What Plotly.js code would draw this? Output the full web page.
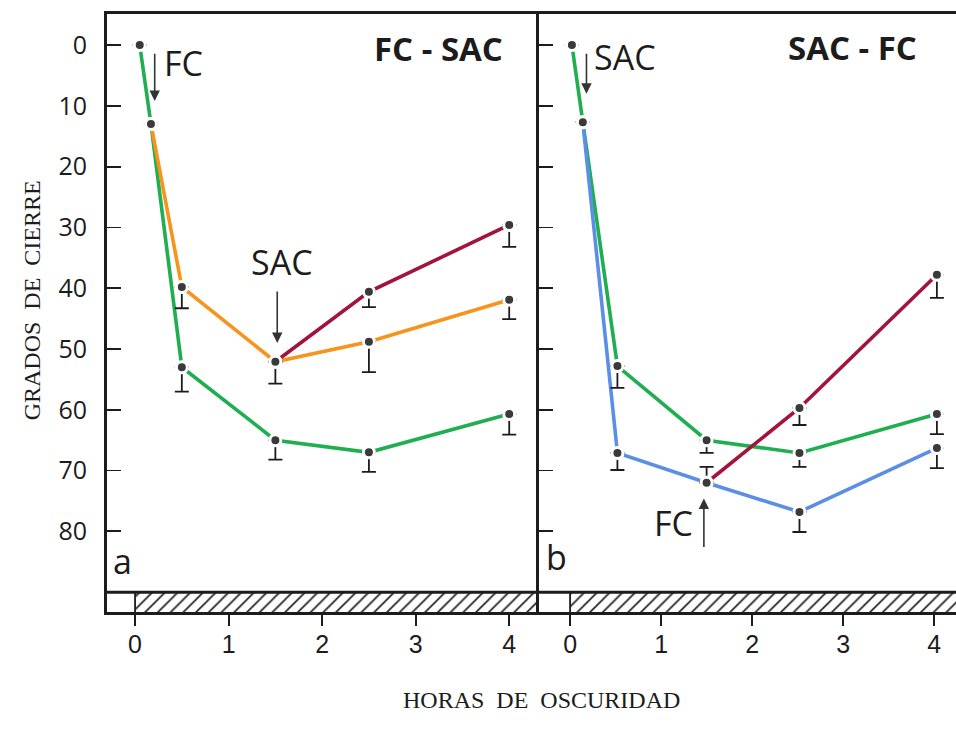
<!DOCTYPE html>
<html>
<head>
<meta charset="utf-8">
<script src="https://cdn.plot.ly/plotly-3.0.1.min.js"></script>
<style>html,body{margin:0;padding:0;background:#fff;}#chart{width:956px;height:737px;}</style>
</head>
<body>
<div id="chart"></div>
<script>
// ---------- Data: panel a (FC - SAC) ----------
const aGreenX = [0.05, 0.17, 0.5, 1.5, 2.5, 4.0];
const aGreenY = [0, 13, 53, 65, 67, 60.7];
const aGreenErr = [0, 0, 4.0, 3.2, 3.2, 3.4];

const aOrangeX = [0.17, 0.5, 1.5, 2.5, 4.0];
const aOrangeY = [13, 39.8, 52.1, 48.8, 41.9];
const aOrangeErr = [0, 3.5, 3.6, 5.0, 3.2];

const aRedX = [1.5, 2.5, 4.0];
const aRedY = [52.1, 40.6, 29.6];
const aRedErr = [0, 2.5, 3.6];

// ---------- Data: panel b (SAC - FC) ----------
const bGreenX = [0.02, 0.14, 0.52, 1.5, 2.52, 4.03];
const bGreenY = [0, 12.7, 52.8, 65, 67.1, 60.7];
const bGreenErr = [0, 0, 3.6, 2.1, 2.3, 3.3];

const bBlueX = [0.14, 0.52, 1.5, 2.52, 4.03];
const bBlueY = [12.7, 67.1, 72.0, 76.8, 66.3];
const bBlueErr = [0, 2.8, 0, 3.3, 3.3];
const bBlueErrMinus = [0, 0, 2.6, 0, 0];

const bRedX = [1.5, 2.52, 4.03];
const bRedY = [72.0, 59.7, 37.8];
const bRedErr = [0, 2.8, 3.8];

// Darkness bar (hours of darkness start at 0)
const darkStart = 0;
const yTicks = [0, 10, 20, 30, 40, 50, 60, 70, 80];
const yTickText = ['0', '10', '20', '30', '40', '50', '60', '70', '80'];
const xTicks = [0, 1, 2, 3, 4];
const xTickText = ['0', '1', '2', '3', '4'];

// ---------- Styling ----------
const GREEN = '#1fae50';
const ORANGE = '#f7941d';
const RED = '#a3143c';
const BLUE = '#5b8ee6';
const INK = '#1c1c1c';
const xRangeA = [-0.3, 4.32];
const xRangeB = [-0.34, 4.24];
const yRange = [93.26, -5.1];
const barTop = 90;

function lineTrace(x, y, color, xa, ya) {
  return {x: x, y: y, mode: 'lines', type: 'scatter', xaxis: xa, yaxis: ya,
    line: {color: color, width: 3.6}, hoverinfo: 'skip'};
}
function markTrace(x, y, err, errMinus, xa, ya) {
  return {x: x, y: y, mode: 'markers', type: 'scatter', xaxis: xa, yaxis: ya,
    marker: {size: 11, color: '#3a3a3a', line: {color: '#ffffff', width: 3}},
    error_y: {type: 'data', symmetric: false, array: err,
      arrayminus: errMinus || err.map(() => 0),
      color: INK, thickness: 1.8, width: 7},
    hoverinfo: 'skip'};
}
function darkBar(range, xa, ya) {
  const w = range[1] - darkStart;
  return {type: 'bar', x: [darkStart + w / 2], width: [w], base: [barTop],
    y: [yRange[0] - barTop], xaxis: xa, yaxis: ya,
    marker: {color: '#ffffff', line: {width: 0},
      pattern: {shape: '/', size: 9, solidity: 0.18, fgcolor: INK, bgcolor: '#ffffff'}},
    hoverinfo: 'skip'};
}

const traces = [
  darkBar(xRangeA, 'x', 'y'),
  darkBar(xRangeB, 'x2', 'y2'),
  lineTrace(aGreenX, aGreenY, GREEN, 'x', 'y'),
  lineTrace(aOrangeX, aOrangeY, ORANGE, 'x', 'y'),
  lineTrace(aRedX, aRedY, RED, 'x', 'y'),
  lineTrace(bGreenX, bGreenY, GREEN, 'x2', 'y2'),
  lineTrace(bBlueX, bBlueY, BLUE, 'x2', 'y2'),
  lineTrace(bRedX, bRedY, RED, 'x2', 'y2'),
  markTrace(aGreenX, aGreenY, aGreenErr, null, 'x', 'y'),
  markTrace(aOrangeX, aOrangeY, aOrangeErr, null, 'x', 'y'),
  markTrace(aRedX, aRedY, aRedErr, null, 'x', 'y'),
  markTrace(bGreenX, bGreenY, bGreenErr, null, 'x2', 'y2'),
  markTrace(bBlueX, bBlueY, bBlueErr, bBlueErrMinus, 'x2', 'y2'),
  markTrace(bRedX, bRedY, bRedErr, null, 'x2', 'y2')
];

const tickFontX = {family: 'Liberation Sans, Arial, sans-serif', size: 25, color: INK};
const tickFontY = {family: 'Open Sans, sans-serif', size: 25, color: INK};
const annFont = {family: 'Open Sans, sans-serif', size: 34, color: INK};
const annBold = {family: 'Open Sans, sans-serif', size: 33, color: INK, weight: 'bold'};
const serif = {family: 'Liberation Serif, Times New Roman, serif', size: 24, color: INK};

function arrow(xa, ya, x, y, ax, ay) {
  return {xref: xa, yref: ya, axref: xa, ayref: ya, x: x, y: y, ax: ax, ay: ay,
    text: '', showarrow: true, arrowhead: 2, arrowsize: 1.3, arrowwidth: 1.6,
    arrowcolor: '#333333', standoff: 0, startstandoff: 0};
}
function label(xa, ya, x, y, text, font, xanchor) {
  return {xref: xa, yref: ya, x: x, y: y, text: text, showarrow: false,
    font: font, xanchor: xanchor || 'center', yanchor: 'middle'};
}

const annotations = [
  label('x', 'y', 0.29, 3.0, 'FC', annFont, 'left'),
  arrow('x', 'y', 0.21, 9.2, 0.21, 1.2),
  label('x', 'y', 3.24, 0.6, 'FC - SAC', annBold),
  label('x', 'y', 1.57, 35.7, 'SAC', annFont),
  arrow('x', 'y', 1.52, 49.0, 1.52, 40.3),
  label('x', 'y', -0.13, 84.8, 'a', annFont),
  label('x2', 'y2', 0.24, 2.0, 'SAC', annFont, 'left'),
  arrow('x2', 'y2', 0.18, 8.0, 0.18, 1.2),
  label('x2', 'y2', 3.10, 0.4, 'SAC - FC', annBold),
  label('x2', 'y2', 1.37, 78.6, 'FC', annFont, 'right'),
  arrow('x2', 'y2', 1.47, 74.6, 1.47, 82.8),
  label('x2', 'y2', -0.15, 84.2, 'b', annFont),
  {xref: 'paper', yref: 'paper', x: 0.512, y: -0.147, text: 'HORAS\u00A0\u00A0DE\u00A0\u00A0OSCURIDAD',
    showarrow: false, font: serif, xanchor: 'center', yanchor: 'middle'},
  {xref: 'paper', yref: 'paper', x: -0.088, y: 0.5217, text: 'GRADOS\u00A0\u00A0DE\u00A0\u00A0CIERRE',
    showarrow: false, font: serif, textangle: -90, xanchor: 'center', yanchor: 'middle'}
];

const shapes = [
  // top edge of darkness bar across both panels
  {type: 'line', xref: 'paper', yref: 'y', x0: 0, x1: 1, y0: barTop, y1: barTop,
    line: {color: INK, width: 3}},
  // start of darkness separators
  {type: 'line', xref: 'x', yref: 'y', x0: darkStart, x1: darkStart, y0: barTop, y1: yRange[0],
    line: {color: INK, width: 1.8}},
  {type: 'line', xref: 'x2', yref: 'y2', x0: darkStart, x1: darkStart, y0: barTop, y1: yRange[0],
    line: {color: INK, width: 1.8}}
];

const axCommonX = {showgrid: false, zeroline: false, showline: true, linecolor: INK, linewidth: 3,
  mirror: true, ticks: 'outside', ticklen: 11, tickwidth: 1.8, tickcolor: INK,
  tickvals: xTicks, ticktext: xTickText, tickfont: tickFontX, fixedrange: true,
  ticklabelstandoff: -3};
const axCommonY = {showgrid: false, zeroline: false, showline: true, linecolor: INK, linewidth: 3,
  ticks: 'inside', ticklen: 14, tickwidth: 1.8, tickcolor: INK, range: yRange,
  tickvals: yTicks, ticktext: yTickText, tickfont: tickFontY, fixedrange: true};

const layout = {
  width: 956, height: 737,
  margin: {l: 107, r: 0, t: 14, b: 125},
  paper_bgcolor: '#ffffff', plot_bgcolor: '#ffffff',
  showlegend: false,
  bargap: 0,
  xaxis: Object.assign({}, axCommonX, {domain: [0, 0.509], range: xRangeA, anchor: 'y'}),
  xaxis2: Object.assign({}, axCommonX, {domain: [0.509, 1], range: xRangeB, anchor: 'y2'}),
  yaxis: Object.assign({}, axCommonY, {anchor: 'x', ticklabelstandoff: 12}),
  yaxis2: Object.assign({}, axCommonY, {anchor: 'x2', matches: 'y', showticklabels: false}),
  annotations: annotations,
  shapes: shapes
};

Plotly.newPlot('chart', traces, layout, {displayModeBar: false, staticPlot: true});
</script>
</body>
</html>
